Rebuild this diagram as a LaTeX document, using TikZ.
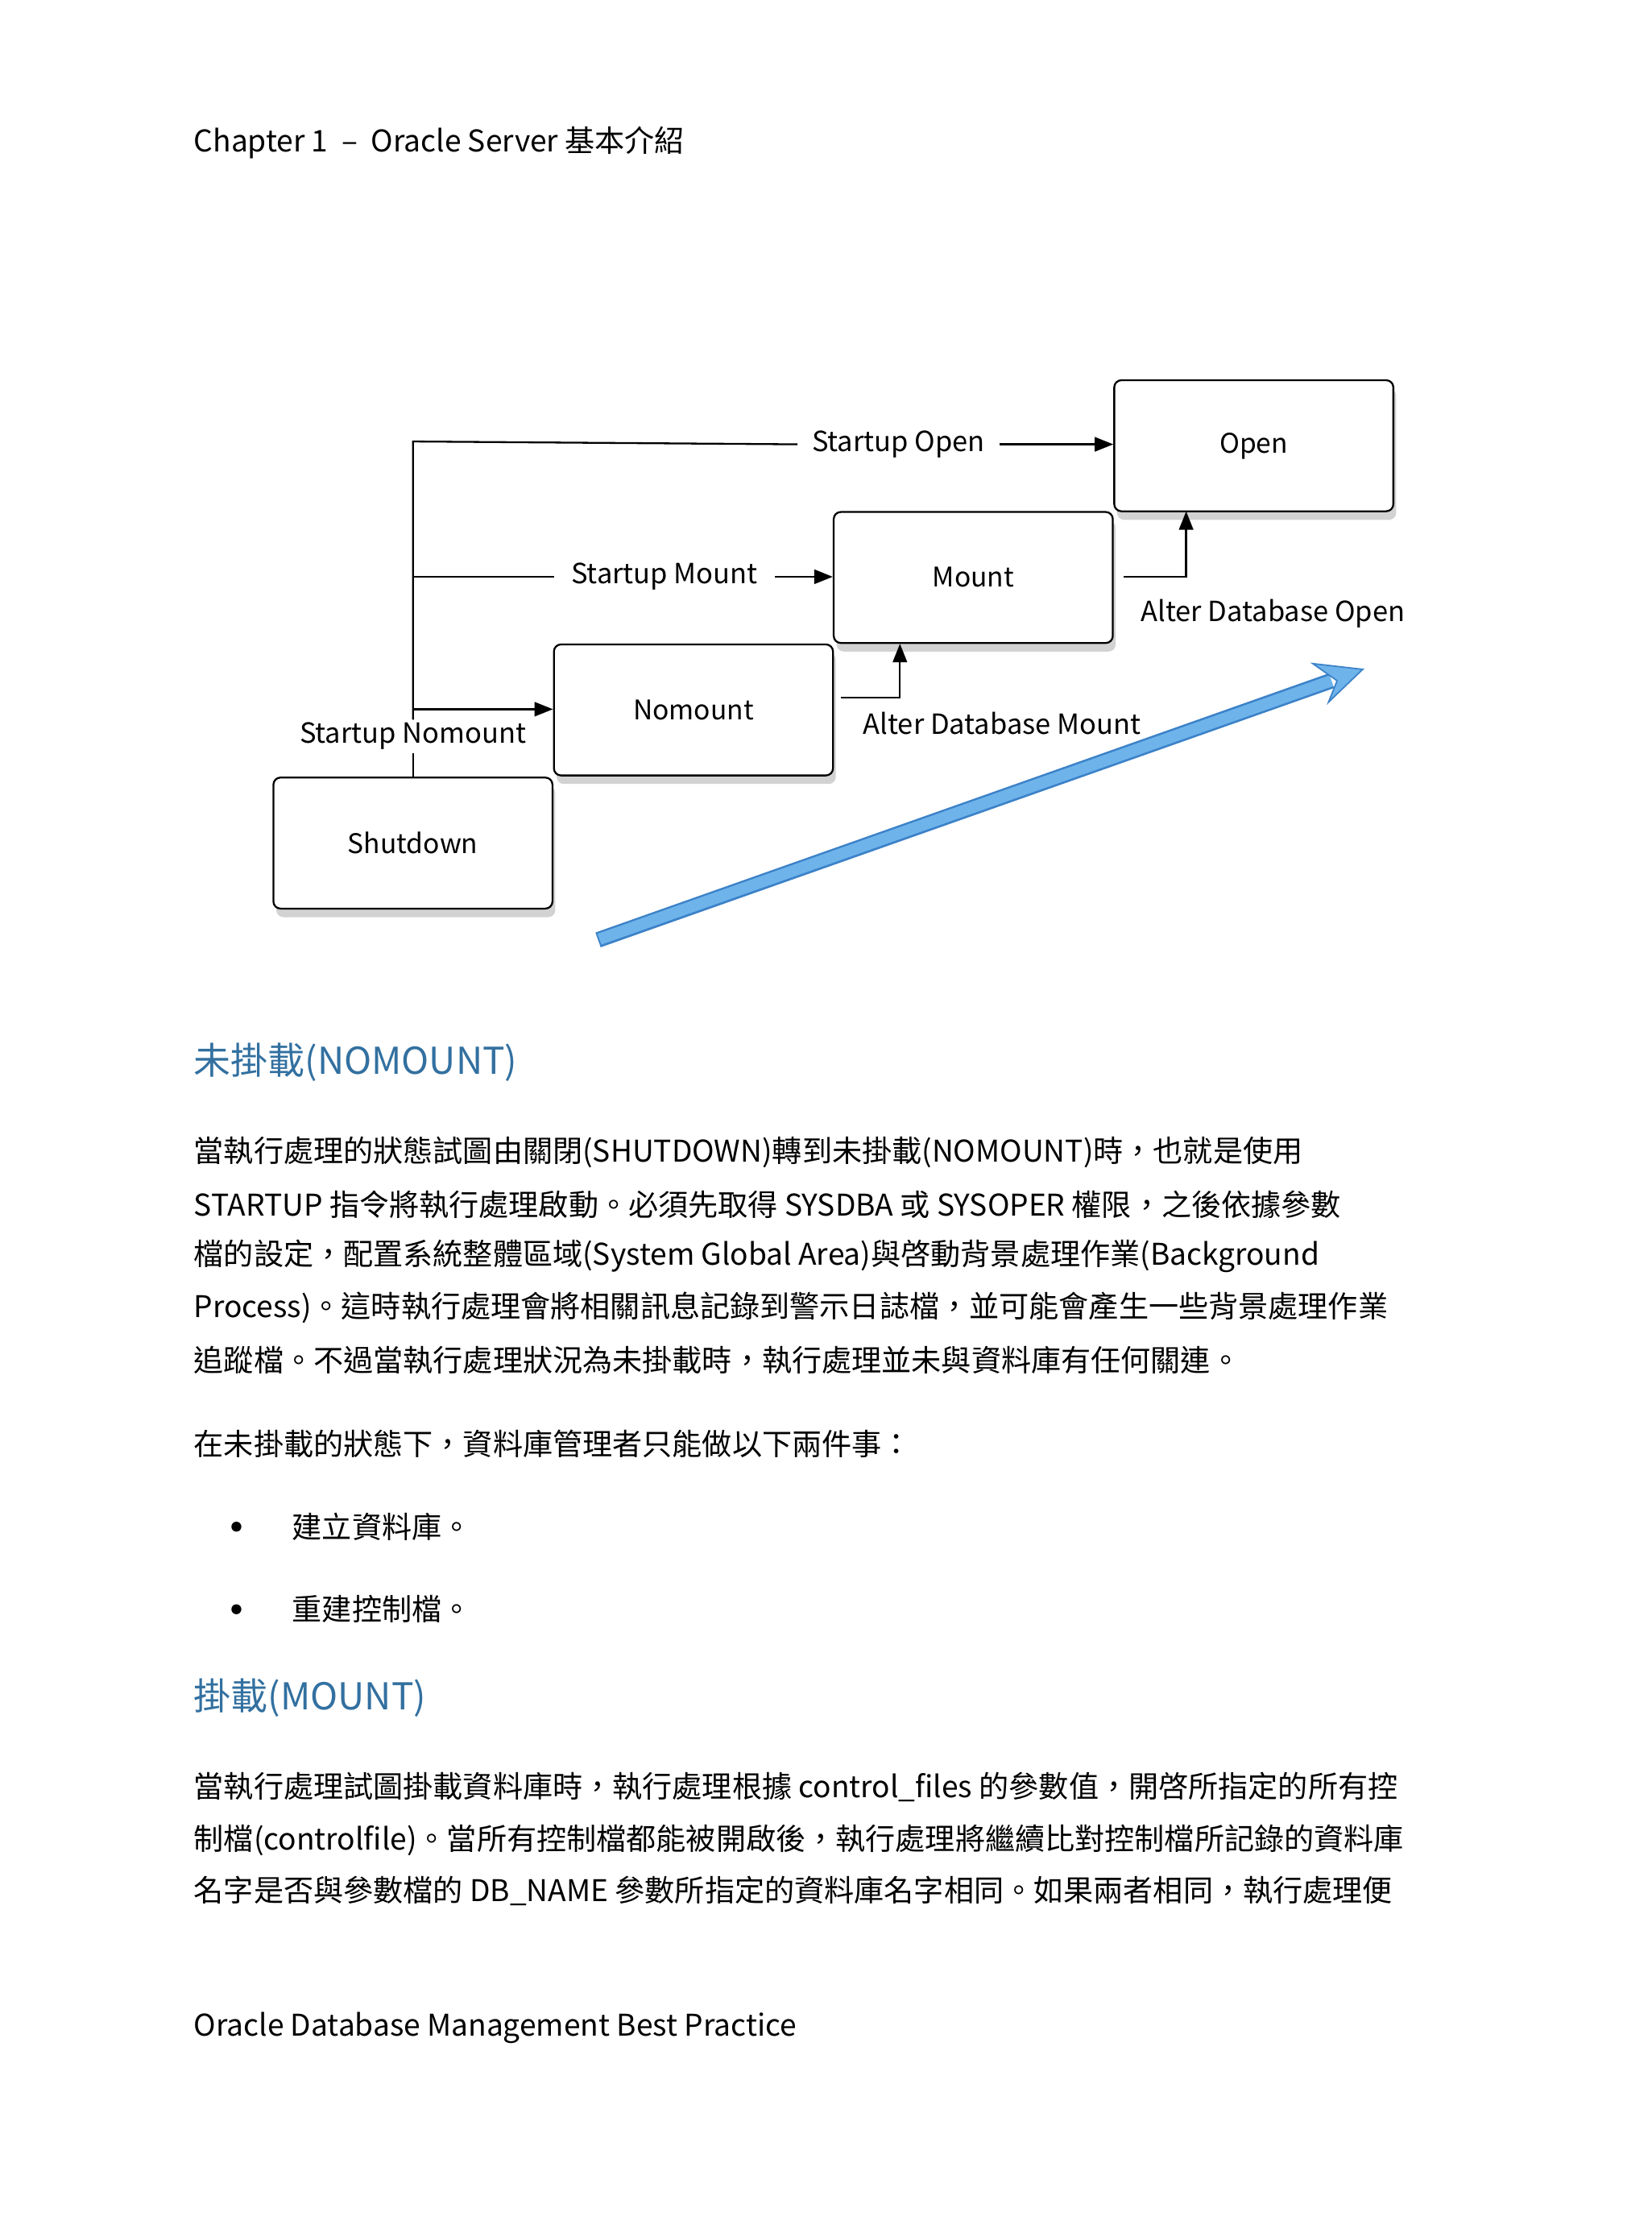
\documentclass[tikz,border=0pt]{standalone}
\usepackage{fontspec}
\setmainfont{Noto Sans CJK TC}
\usetikzlibrary{shadows,arrows.meta,shapes.misc}
\definecolor{headblue}{RGB}{50,112,160}
\definecolor{arrblue}{RGB}{110,180,235}
\definecolor{arredge}{RGB}{60,130,200}
\tikzset{x=1pt,y=-1pt,
 state/.style={draw,line width=1.3pt,rounded corners=5pt,fill=white,minimum width=196pt,minimum height=92pt,
   drop shadow={shadow xshift=2pt,shadow yshift=-6pt,opacity=0.35},font=\fontsize{19}{22}\selectfont},
 lab/.style={font=\fontsize{19.5}{22}\selectfont,inner sep=0pt},
 conn/.style={line width=1.3pt},
 tip/.style={-{Triangle[length=13pt,width=10pt]}},
 txt/.style={anchor=west,inner sep=0pt,font=\fontsize{21}{24}\selectfont},
 head/.style={anchor=west,inner sep=0pt,font=\fontsize{26}{30}\selectfont,text=headblue}}
\begin{document}
\begin{tikzpicture}
\fill[white] (0,0) rectangle (1160,1568);
\useasboundingbox (0,0) rectangle (1160,1568);
\node[txt,font=\fontsize{21}{24}\selectfont] (hdr) at (136,100) {Chapter 1 \ – \ Oracle Server 基本介紹};
% states
\node[state] (open) at (880.5,313) {Open};
\node[state] (mount) at (683.5,405.5) {Mount};
\node[state] (nomount) at (487,498.5) {Nomount};
\node[state] (shutdown) at (290,592) {Shutdown};
% labels
\node[lab,anchor=west] (lso) at (570,312) {Startup Open};
\node[lab,anchor=west] (lsm) at (401,405) {Startup Mount};
\node[lab,fill=white,inner sep=2pt] (lsn) at (290,517) {Startup Nomount};
\node[lab,anchor=west] (ladm) at (606,508) {Alter Database Mount};
\node[lab,anchor=west] (lado) at (801,431) {Alter Database Open};
\coordinate (c1) at (290,310);
\coordinate (c2) at (290,405);
\coordinate (c3) at (290,498);
% connectors
\draw[conn] (shutdown.north) -- (lsn.south);
\draw[conn] (lsn.north) -- (c1) -- ([xshift=-10pt]lso.west);
\draw[conn,tip] ([xshift=10pt]lso.east) -- (open.west|-lso.east);
\draw[conn] (c2) -- ([xshift=-12pt]lsm.west);
\draw[conn,tip] ([xshift=12pt]lsm.east) -- (mount.west|-lsm.east);
\draw[conn,tip] (c3) -- (nomount.west|-c3);
\draw[conn,tip] ([xshift=5pt]nomount.east|-0,490) -| (632,452);
\draw[conn,tip] ([xshift=7pt]mount.east|-0,405) -| (833,359);
% big arrow
\draw[draw=arredge,line width=11pt] (420,660) -- (935,478);
\draw[arrblue,line width=8pt] (421,659.5) -- (935,478);
\fill[arrblue,draw=arredge,line width=1pt] (957,470) -- (922,466) -- (939,478) -- (933,493) -- cycle;
% text
\node[head] (h1) at (136,746) {未掛載(NOMOUNT)};
\node[txt] (p1) at (136,809) {當執行處理的狀態試圖由關閉(SHUTDOWN)轉到未掛載(NOMOUNT)時，也就是使用};
\node[txt] (p2) at (136,846) {STARTUP 指令將執行處理啟動。必須先取得 SYSDBA 或 SYSOPER 權限，之後依據參數};
\node[txt] (p3) at (136,882) {檔的設定，配置系統整體區域(System Global Area)與啓動背景處理作業(Background};
\node[txt] (p4) at (136,918) {Process)。這時執行處理會將相關訊息記錄到警示日誌檔，並可能會產生一些背景處理作業};
\node[txt] (p5) at (136,955) {追蹤檔。不過當執行處理狀況為未掛載時，執行處理並未與資料庫有任何關連。};
\node[txt] (p6) at (136,1014) {在未掛載的狀態下，資料庫管理者只能做以下兩件事：};
\fill (166,1072) circle (3.5pt);
\node[txt] (t1) at (205,1072) {建立資料庫。};
\fill (166,1130) circle (3.5pt);
\node[txt] (t2) at (205,1130) {重建控制檔。};
\node[head] (h2) at (136,1192) {掛載(MOUNT)};
\node[txt] (q1) at (136,1255) {當執行處理試圖掛載資料庫時，執行處理根據 control\_files 的參數值，開啓所指定的所有控};
\node[txt] (q2) at (136,1292) {制檔(controlfile)。當所有控制檔都能被開啟後，執行處理將繼續比對控制檔所記錄的資料庫};
\node[txt] (q3) at (136,1328) {名字是否與參數檔的 DB\_NAME 參數所指定的資料庫名字相同。如果兩者相同，執行處理便};
\node[txt,font=\fontsize{21}{24}\selectfont] (ft) at (136,1424) {Oracle Database Management Best Practice};
\end{tikzpicture}
\end{document}
